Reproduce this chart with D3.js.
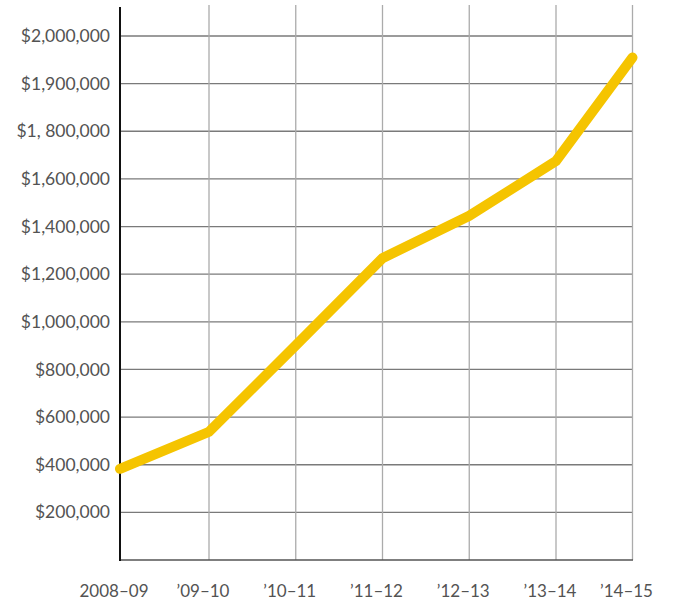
<!DOCTYPE html>
<html>
<head>
<meta charset="utf-8">
<script src="https://cdn.jsdelivr.net/npm/d3@7"></script>
<style>
  html, body { margin: 0; padding: 0; background: #fff; }
  svg { display: block; }
  text { font-family: Lato, "Open Sans", sans-serif; fill: #535353; }
</style>
</head>
<body>
<svg id="chart" width="673" height="601"></svg>
<script>
// ---- data ----
const categories = ["2008\u201309", "\u201909\u201310", "\u201910\u201311", "\u201911\u201312", "\u201912\u201313", "\u201913\u201314", "\u201914\u201315"];
const values = [383000, 538000, 901000, 1267000, 1445000, 1675000, 1955000];
const tickValues = [200000, 400000, 600000, 800000, 1000000, 1200000, 1400000, 1600000, 1800000, 1900000, 2000000];
const tickLabels = ["$200,000", "$400,000", "$600,000", "$800,000", "$1,000,000", "$1,200,000", "$1,400,000", "$1,600,000", "$1, 800,000", "$1,900,000", "$2,000,000"];

// ---- layout ----
const svg = d3.select("#chart");
const mLeft = 120, mRight = 633, mBottom = 560, mTop = 36;
const step = (mBottom - mTop) / tickValues.length;

// y: piecewise linear, each labelled tick equally spaced (as in the original)
const y = d3.scaleLinear()
  .domain([0].concat(tickValues))
  .range(d3.range(tickValues.length + 1).map(i => mBottom - i * step));

// x: positions of categories (first and last intervals differ slightly in original)
const x = d3.scaleLinear()
  .domain([0, 1, 5, 6])
  .range([mLeft, 209, 556, 632.5]);

// horizontal gridlines
svg.append("g").selectAll("line").data(tickValues).join("line")
  .attr("x1", mLeft).attr("x2", mRight)
  .attr("y1", d => y(d)).attr("y2", d => y(d))
  .attr("stroke", "#7a7a7a").attr("stroke-width", 1.3);

// vertical gridlines
svg.append("g").selectAll("line").data(categories.slice(1)).join("line")
  .attr("x1", (d, i) => x(i + 1)).attr("x2", (d, i) => x(i + 1))
  .attr("y1", 5).attr("y2", mBottom)
  .attr("stroke", "#ababab").attr("stroke-width", 1.3);

// baseline
svg.append("line")
  .attr("x1", mLeft).attr("x2", mRight).attr("y1", mBottom).attr("y2", mBottom)
  .attr("stroke", "#555").attr("stroke-width", 1.3);

// y axis line
svg.append("line")
  .attr("x1", mLeft).attr("x2", mLeft).attr("y1", 7).attr("y2", mBottom + 1)
  .attr("stroke", "#111").attr("stroke-width", 2);

// y labels
svg.append("g").selectAll("text").data(tickValues).join("text")
  .attr("x", 110).attr("y", d => y(d))
  .attr("dy", "0.35em")
  .attr("text-anchor", "end")
  .attr("font-size", 17.5)
  .text((d, i) => tickLabels[i]);

// x labels
svg.append("g").selectAll("text").data(categories).join("text")
  .attr("x", (d, i) => x(i) - 6).attr("y", 597)
  .attr("text-anchor", "middle")
  .attr("font-size", 17)
  .text(d => d);

// line
const line = d3.line().x((d, i) => x(i)).y(d => y(d));
svg.append("path")
  .datum(values)
  .attr("d", line)
  .attr("fill", "none")
  .attr("stroke", "#F5C400")
  .attr("stroke-width", 10)
  .attr("stroke-linecap", "round")
  .attr("stroke-linejoin", "miter");
</script>
</body>
</html>
